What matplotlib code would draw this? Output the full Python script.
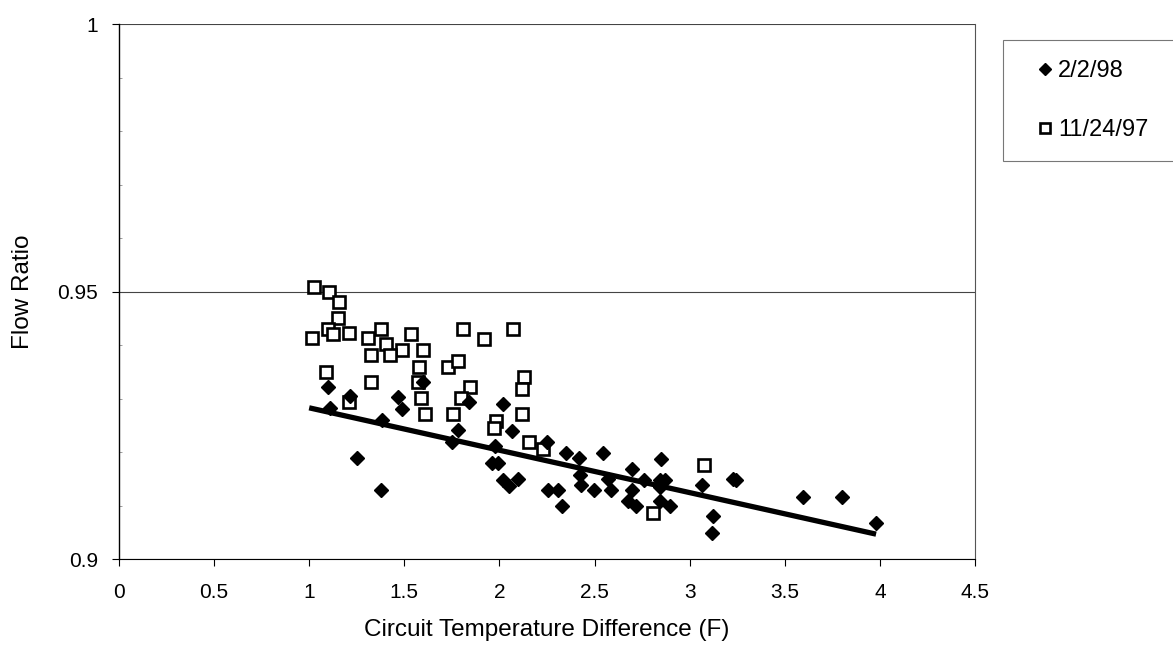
import matplotlib
matplotlib.use("Agg")
import matplotlib.pyplot as plt
import numpy as np

plt.rcParams['font.family'] = ['Liberation Sans', 'DejaVu Sans']

# 2/2/98 (filled diamonds)
feb_x = [1.100, 1.109, 1.214, 1.468, 1.489, 1.381, 1.597, 1.842, 2.017, 2.065,
         1.781, 1.749, 1.977, 1.250, 1.377, 1.959, 1.994, 2.021, 2.099, 2.052,
         2.249, 2.350, 2.418, 2.546, 2.257, 2.310, 2.328, 2.424, 2.427, 2.499,
         2.587, 2.573, 2.696, 2.696, 2.678, 2.718, 2.762, 2.850, 2.844, 2.871,
         2.844, 2.844, 2.897, 3.064, 3.125, 3.119, 3.242, 3.230, 3.598, 3.800,
         3.978]
feb_y = [0.9322, 0.9283, 0.9305, 0.9303, 0.9280, 0.9261, 0.9331, 0.9293, 0.9291, 0.9239,
         0.9241, 0.9219, 0.9212, 0.9189, 0.9130, 0.9180, 0.9180, 0.9149, 0.9150, 0.9137,
         0.9219, 0.9199, 0.9189, 0.9199, 0.9129, 0.9129, 0.9099, 0.9158, 0.9139, 0.9129,
         0.9129, 0.9150, 0.9169, 0.9130, 0.9108, 0.9099, 0.9149, 0.9188, 0.9149, 0.9149,
         0.9136, 0.9108, 0.9099, 0.9139, 0.9080, 0.9049, 0.9149, 0.9150, 0.9117, 0.9117,
         0.9068]

# 11/24/97 (open squares)
nov_x = [1.027, 1.106, 1.158, 1.150, 1.097, 1.127, 1.211, 1.013, 1.311, 1.376,
         1.402, 1.489, 1.425, 1.325, 1.535, 1.597, 1.579, 1.807, 1.921, 2.070,
         1.728, 1.784, 1.088, 1.325, 1.570, 1.588, 1.609, 1.211, 1.758, 1.845,
         1.798, 2.131, 2.117, 2.117, 1.982, 1.972, 2.157, 2.231, 3.077, 2.806]
nov_y = [0.9509, 0.9500, 0.9481, 0.9450, 0.9430, 0.9421, 0.9422, 0.9413, 0.9413, 0.9430,
         0.9402, 0.9391, 0.9381, 0.9381, 0.9421, 0.9391, 0.9359, 0.9430, 0.9411, 0.9430,
         0.9359, 0.9371, 0.9350, 0.9331, 0.9331, 0.9302, 0.9272, 0.9293, 0.9272, 0.9322,
         0.9302, 0.9341, 0.9319, 0.9272, 0.9259, 0.9246, 0.9219, 0.9206, 0.9177, 0.9087]

# trend line for 2/2/98
trend_x = [1.0, 3.98]
trend_y = [0.9283, 0.9047]

x_ticks = [0, 0.5, 1, 1.5, 2, 2.5, 3, 3.5, 4, 4.5]
x_labels = ['0', '0.5', '1', '1.5', '2', '2.5', '3', '3.5', '4', '4.5']
y_ticks = [0.9, 0.95, 1.0]
y_labels = ['0.9', '0.95', '1']

fig = plt.figure(figsize=(11.73, 6.46), dpi=100)
ax = fig.add_axes([0.1014, 0.1342, 0.7298, 0.8286])

ax.plot(nov_x, nov_y, linestyle='none', marker='s', ms=9, mfc='white',
        mec='black', mew=1.9, label='11/24/97', zorder=3)
ax.plot(feb_x, feb_y, linestyle='none', marker='D', ms=7.5, mfc='black',
        mec='black', label='2/2/98', zorder=4)
ax.plot(trend_x, trend_y, color='black', lw=3.8, solid_capstyle='butt', zorder=5)

ax.set_xlim(0, 4.5)
ax.set_ylim(0.9, 1.0)
ax.set_xticks(x_ticks)
ax.set_xticklabels(x_labels, fontsize=15)
ax.set_yticks(y_ticks)
ax.set_yticklabels(y_labels, fontsize=15)
ax.set_yticks(np.arange(0.91, 1.0, 0.01), minor=True)
ax.tick_params(axis='y', which='minor', length=2, direction='in', width=0.5, color='#777777')
ax.tick_params(axis='x', which='major', length=5, width=0.8, direction='out', pad=12)
ax.tick_params(axis='y', which='major', length=5, width=0.8, direction='out', pad=10)

ax.grid(axis='y', which='major', color='#444444', lw=0.8)
ax.spines['top'].set_visible(False)
ax.spines['right'].set_color('#555555')
ax.spines['right'].set_linewidth(0.8)
ax.spines['left'].set_linewidth(1.0)
ax.spines['bottom'].set_linewidth(0.8)

ax.set_xlabel('Circuit Temperature Difference (F)', fontsize=17.5)
ax.set_ylabel('Flow Ratio', fontsize=17.5)
ax.xaxis.set_label_coords(0.5, -0.112)
ax.yaxis.set_label_coords(-0.0993, 0.5)

h, l = ax.get_legend_handles_labels()
leg = fig.legend([h[1], h[0]], [l[1], l[0]], loc='upper left',
                 bbox_to_anchor=(1003 / 1173, 1 - 40 / 646, 0.2, 0.0001),
                 mode='expand', borderaxespad=0, fontsize=17, frameon=True,
                 fancybox=False, edgecolor='#555555', handlelength=1.86,
                 handletextpad=-0.38, labelspacing=1.56, borderpad=0.85,
                 markerscale=0.8)
leg.get_frame().set_linewidth(0.8)

fig.savefig('out.png', dpi=100)
